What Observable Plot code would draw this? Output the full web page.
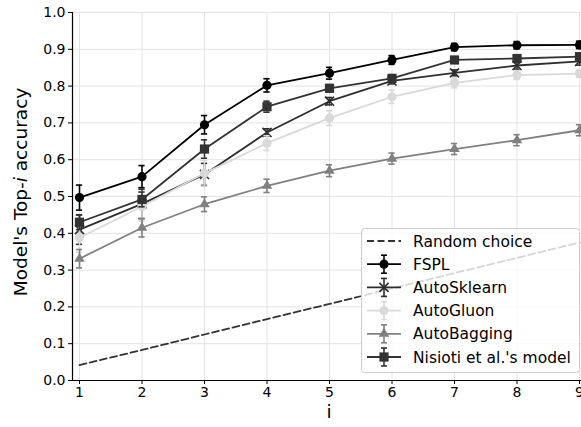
<!DOCTYPE html>
<html>
<head>
<meta charset="utf-8">
<script src="https://cdn.jsdelivr.net/npm/d3@7"></script>
<script src="https://cdn.jsdelivr.net/npm/@observablehq/plot@0.6"></script>
<style>
  html, body { margin: 0; padding: 0; background: #fff; }
  #chart { width: 581px; height: 427px; overflow: hidden; }
  svg { font-family: "DejaVu Sans", sans-serif; }
</style>
</head>
<body>
<div id="chart"></div>
<script>
// ---- data ----
const ranks = [1, 2, 3, 4, 5, 6, 7, 8, 9];
const yTicks = [0, 0.1, 0.2, 0.3, 0.4, 0.5, 0.6, 0.7, 0.8, 0.9, 1.0];

const randomChoice = [0.042, 0.083, 0.125, 0.167, 0.208, 0.250, 0.292, 0.333, 0.375];

const fspl        = [0.497, 0.554, 0.695, 0.802, 0.835, 0.871, 0.906, 0.911, 0.912];
const fsplErr     = [0.034, 0.030, 0.025, 0.018, 0.016, 0.012, 0.010, 0.010, 0.010];

const autoSklearn    = [0.410, 0.480, 0.560, 0.674, 0.759, 0.814, 0.836, 0.856, 0.867];
const autoSklearnErr = [0.040, 0.040, 0.030, 0.010, 0.010, 0.008, 0.008, 0.010, 0.010];

const autoGluon    = [0.388, 0.473, 0.563, 0.645, 0.713, 0.771, 0.809, 0.830, 0.834];
const autoGluonErr = [0.040, 0.040, 0.035, 0.020, 0.020, 0.018, 0.014, 0.012, 0.010];

const autoBagging    = [0.331, 0.415, 0.479, 0.529, 0.570, 0.603, 0.629, 0.653, 0.680];
const autoBaggingErr = [0.025, 0.025, 0.020, 0.018, 0.016, 0.015, 0.015, 0.015, 0.015];

const nisioti    = [0.430, 0.492, 0.629, 0.744, 0.794, 0.821, 0.871, 0.875, 0.880];
const nisiotiErr = [0.020, 0.020, 0.025, 0.015, 0.010, 0.010, 0.008, 0.010, 0.010];

const seriesNames = ["FSPL", "AutoSklearn", "AutoGluon", "AutoBagging", "Nisioti et al.'s model"];
const seriesValues = [fspl, autoSklearn, autoGluon, autoBagging, nisioti];
const seriesErrors = [fsplErr, autoSklearnErr, autoGluonErr, autoBaggingErr, nisiotiErr];
const seriesColors = ["#000000", "#2e2e2e", "#d9d9d9", "#808080", "#333333"];
const seriesSymbols = ["circle", "times", "circle", "triangle", "square"];
const randomName = "Random choice";
const randomColor = "#333333";

// ---- build tables ----
const randomRows = ranks.map((x, i) => ({x, y: randomChoice[i]}));
const seriesRows = seriesNames.map((name, s) =>
  ranks.map((x, i) => ({name, x, y: seriesValues[s][i], e: seriesErrors[s][i]})));

const symR = {times: 4.2, circle: 4.6, square: 5.2, triangle: 3.9};
const capHalf = 0.05; // in x units
const marks = [
  Plot.gridX(ranks, {stroke: "#e3e3e3", strokeOpacity: 1, strokeWidth: 1}),
  Plot.gridY(yTicks, {stroke: "#e3e3e3", strokeOpacity: 1, strokeWidth: 1}),
  Plot.line(randomRows, {x: "x", y: "y", stroke: randomColor, strokeWidth: 1.8, strokeDasharray: "7,3.5"})
];
seriesRows.forEach((rows, s) => {
  const c = seriesColors[s];
  const sym = seriesSymbols[s];
  marks.push(
    Plot.ruleX(rows, {x: "x", y1: d => d.y - d.e, y2: d => d.y + d.e, stroke: c, strokeWidth: 1.6}),
    Plot.ruleY(rows, {y: d => d.y - d.e, x1: d => d.x - capHalf, x2: d => d.x + capHalf, stroke: c, strokeWidth: 1.6}),
    Plot.ruleY(rows, {y: d => d.y + d.e, x1: d => d.x - capHalf, x2: d => d.x + capHalf, stroke: c, strokeWidth: 1.6}),
    Plot.line(rows, {x: "x", y: "y", stroke: c, strokeWidth: 1.8}),
    sym === "times"
      ? Plot.dot(rows, {x: "x", y: "y", symbol: "times", stroke: c, strokeWidth: 1.6, r: symR[sym]})
      : Plot.dot(rows, {x: "x", y: "y", symbol: sym, fill: c, stroke: "none", r: symR[sym]})
  );
});
marks.push(
  Plot.ruleX([0.888], {stroke: "#000", strokeWidth: 1.2}),
  Plot.ruleY([0], {stroke: "#000", strokeWidth: 1.2}),
  Plot.axisX({ticks: ranks, tickSize: 4, tickPadding: 3, fontSize: 14, label: null, tickFormat: d => String(d)}),
  Plot.axisY({ticks: yTicks, tickSize: 4, tickPadding: 3, fontSize: 14, label: null, tickFormat: d3.format(".1f")})
);

const chart = Plot.plot({
  width: 581,
  height: 427,
  marginLeft: 72,
  marginRight: 0,
  marginTop: 12,
  marginBottom: 47,
  style: {fontFamily: "DejaVu Sans, sans-serif", fontSize: "14px", color: "#000", background: "#fff", overflow: "hidden"},
  x: {domain: [0.888, 9.112], range: [72, 586]},
  y: {domain: [0, 1]},
  marks
});
document.getElementById("chart").appendChild(chart);

// ---- axis titles and legend ----
const svg = d3.select(chart);
const yLab = svg.append("text")
  .attr("transform", "translate(27,192) rotate(-90)")
  .attr("text-anchor", "middle")
  .attr("font-size", 18.5)
  .attr("fill", "#000");
yLab.append("tspan").text("Model's Top-");
yLab.append("tspan").attr("font-style", "italic").text("i");
yLab.append("tspan").text(" accuracy");

svg.append("text")
  .attr("x", 329).attr("y", 418)
  .attr("text-anchor", "middle")
  .attr("font-size", 18.5)
  .attr("fill", "#000")
  .text("i");

const lg = svg.append("g").attr("text-anchor", "start");
lg.append("rect")
  .attr("x", 361.5).attr("y", 228.5).attr("width", 218).attr("height", 144).attr("rx", 3)
  .attr("fill", "#fff").attr("fill-opacity", 0.8).attr("stroke", "#cccccc").attr("stroke-width", 1);
const entryY = i => 241 + i * 23.2;
const hx1 = 367, hx2 = 401, hxc = 384, tx = 413;
// random choice
lg.append("line").attr("x1", hx1).attr("x2", hx2).attr("y1", entryY(0)).attr("y2", entryY(0))
  .attr("stroke", randomColor).attr("stroke-width", 1.8).attr("stroke-dasharray", "7,3.5");
lg.append("text").attr("x", tx).attr("y", entryY(0)).attr("dy", "0.36em").attr("text-anchor", "start")
  .attr("font-size", 15.5).attr("fill", "#000").text(randomName);
const symMap = {circle: d3.symbolCircle, square: d3.symbolSquare, triangle: d3.symbolTriangle, times: d3.symbolTimes};
seriesNames.forEach((name, s) => {
  const y = entryY(s + 1), c = seriesColors[s];
  lg.append("line").attr("x1", hx1).attr("x2", hx2).attr("y1", y).attr("y2", y).attr("stroke", c).attr("stroke-width", 1.8);
  lg.append("line").attr("x1", hxc).attr("x2", hxc).attr("y1", y - 9).attr("y2", y + 9).attr("stroke", c).attr("stroke-width", 1.6);
  lg.append("line").attr("x1", hxc - 3).attr("x2", hxc + 3).attr("y1", y - 9).attr("y2", y - 9).attr("stroke", c).attr("stroke-width", 1.6);
  lg.append("line").attr("x1", hxc - 3).attr("x2", hxc + 3).attr("y1", y + 9).attr("y2", y + 9).attr("stroke", c).attr("stroke-width", 1.6);
  const sym = seriesSymbols[s];
  const r = symR[sym];
  const p = lg.append("path").attr("transform", `translate(${hxc},${y})`)
    .attr("d", d3.symbol(symMap[sym], Math.PI * r * r)());
  if (sym === "times") p.attr("fill", "none").attr("stroke", c).attr("stroke-width", 1.6);
  else p.attr("fill", c);
  lg.append("text").attr("x", tx).attr("y", y).attr("dy", "0.36em").attr("text-anchor", "start")
    .attr("font-size", 15.5).attr("fill", "#000").text(name);
});
</script>
</body>
</html>
